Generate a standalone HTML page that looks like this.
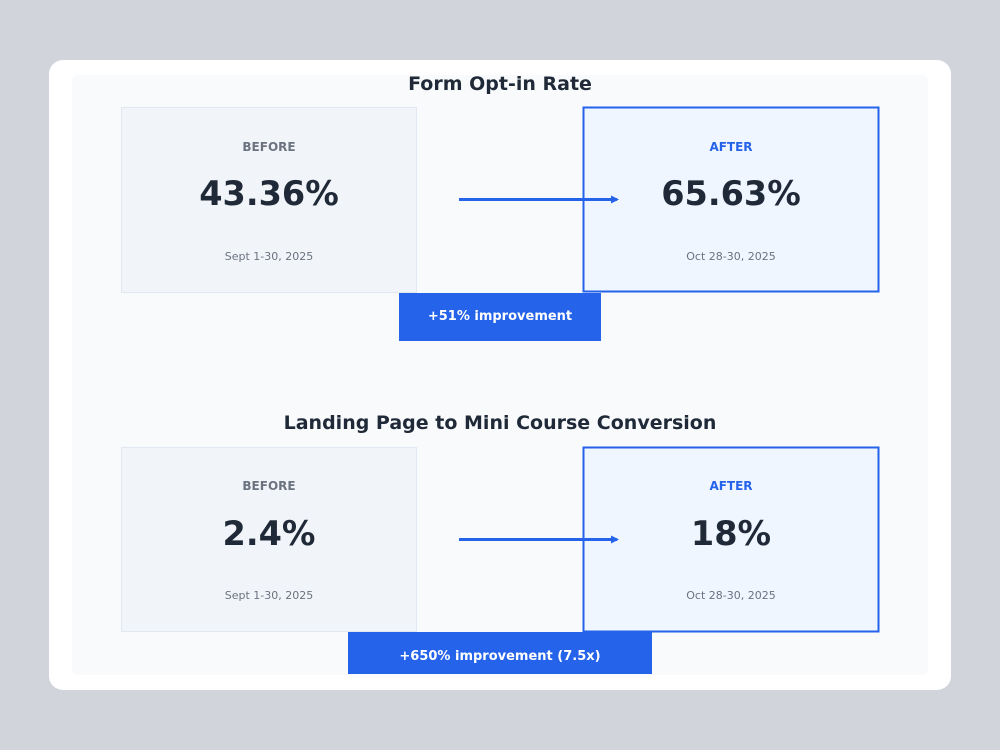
<!DOCTYPE html>
<html><head><meta charset="utf-8"><style>
body{margin:0;background:#d1d5db;width:1000px;height:750px;overflow:hidden}
svg{display:block;font-family:"DejaVu Sans","Liberation Sans",sans-serif}
</style></head><body>
<svg width="1000" height="750" viewBox="0 0 1000 750">
<rect x="0" y="0" width="1000" height="750" fill="#d1d5db"/>
<rect x="49" y="60" width="902" height="630" rx="14" fill="#ffffff"/>
<rect x="72" y="75" width="856" height="600" rx="6" fill="#f8fafc"/>
<defs><marker id="ah" markerWidth="10" markerHeight="10" refX="6" refY="4" orient="auto" markerUnits="userSpaceOnUse"><path d="M0,0 L8,4 L0,8 z" fill="#2563eb"/></marker></defs>

<text x="500" y="90" text-anchor="middle" font-size="19" font-weight="bold" fill="#1f2937">Form Opt-in Rate</text>
<rect x="121.5" y="107.5" width="295" height="185" fill="#f1f5f9" stroke="#e2e8f0"/>
<rect x="583.5" y="107.5" width="295" height="184" fill="#eff6ff" stroke="#2563eb" stroke-width="2"/>
<text x="269" y="151" text-anchor="middle" font-size="12" font-weight="bold" fill="#6b7280">BEFORE</text>
<text x="731" y="151" text-anchor="middle" font-size="12" font-weight="bold" fill="#2563eb">AFTER</text>
<text x="269" y="205" text-anchor="middle" font-size="33.5" font-weight="bold" fill="#1f2937">43.36%</text>
<text x="731" y="205" text-anchor="middle" font-size="33.5" font-weight="bold" fill="#1f2937">65.63%</text>
<text x="269" y="260" text-anchor="middle" font-size="11" fill="#6b7280">Sept 1-30, 2025</text>
<text x="731" y="260" text-anchor="middle" font-size="11" fill="#6b7280">Oct 28-30, 2025</text>
<line x1="459" y1="199.5" x2="617" y2="199.5" stroke="#2563eb" stroke-width="3" marker-end="url(#ah)"/>
<rect x="399" y="293" width="202" height="48" fill="#2563eb"/>
<text x="500" y="320" text-anchor="middle" font-size="13" font-weight="bold" fill="#ffffff">+51% improvement</text>

<text x="500" y="429" text-anchor="middle" font-size="19" font-weight="bold" fill="#1f2937">Landing Page to Mini Course Conversion</text>
<rect x="121.5" y="447.5" width="295" height="184" fill="#f1f5f9" stroke="#e2e8f0"/>
<rect x="583.5" y="447.5" width="295" height="184" fill="#eff6ff" stroke="#2563eb" stroke-width="2"/>
<text x="269" y="490" text-anchor="middle" font-size="12" font-weight="bold" fill="#6b7280">BEFORE</text>
<text x="731" y="490" text-anchor="middle" font-size="12" font-weight="bold" fill="#2563eb">AFTER</text>
<text x="269" y="545" text-anchor="middle" font-size="33.5" font-weight="bold" fill="#1f2937">2.4%</text>
<text x="731" y="545" text-anchor="middle" font-size="33.5" font-weight="bold" fill="#1f2937">18%</text>
<text x="269" y="599" text-anchor="middle" font-size="11" fill="#6b7280">Sept 1-30, 2025</text>
<text x="731" y="599" text-anchor="middle" font-size="11" fill="#6b7280">Oct 28-30, 2025</text>
<line x1="459" y1="539.5" x2="617" y2="539.5" stroke="#2563eb" stroke-width="3" marker-end="url(#ah)"/>
<rect x="348" y="632" width="304" height="42" fill="#2563eb"/>
<text x="500" y="660" text-anchor="middle" font-size="13" font-weight="bold" fill="#ffffff">+650% improvement (7.5x)</text>
</svg>
</body></html>
